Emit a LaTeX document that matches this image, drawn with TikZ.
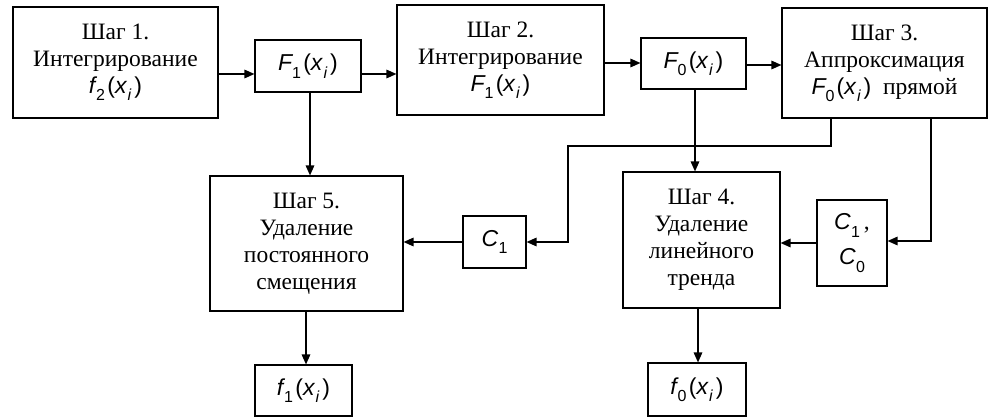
\documentclass[tikz,border=0pt]{standalone}
\usepackage{fontspec}
\setmainfont{Liberation Serif}
\newfontfamily\arialf{Liberation Sans}
\usetikzlibrary{arrows.meta}
\newcommand\subsz[1]{\raisebox{-0.32em}{\fontsize{16}{16}\selectfont #1}}
\newcommand\fxi[2]{{\fontsize{23}{27}\selectfont\arialf\textit{#1}\kern-0.05em\subsz{#2}\kern0.1em(\textit{x}\kern0.02em\subsz{\textit{i}}\kern0.12em)}}
\newcommand\cc[1]{{\fontsize{23}{27}\selectfont\arialf\textit{C}\kern0.01em\subsz{#1}}}
\begin{document}
\begin{tikzpicture}[x=1pt,y=-1pt,
  box/.style={draw, line width=1.1pt, inner sep=0pt, align=center, font=\fontsize{23.5}{27}\selectfont},
  arr/.style={line width=1.5pt, -{Triangle[length=10pt,width=8.5pt]}},
  ln/.style={line width=1.5pt}]
\useasboundingbox (0,0) rectangle (989,417);
% top row
\node[box, minimum width=205pt, minimum height=111pt] (s1) at (115.5,62.5) {Шаг 1.\\Интегрирование\\\fxi{f}{2}};
\node[box, minimum width=106pt, minimum height=52pt] (f1) at (308,66) {\fxi{F}{1}};
\node[box, minimum width=207pt, minimum height=110pt] (s2) at (500.5,60) {Шаг 2.\\Интегрирование\\\fxi{F}{1}};
\node[box, minimum width=105pt, minimum height=51pt] (f0) at (693.5,63.5) {\fxi{F}{0}};
\node[box, minimum width=205pt, minimum height=110pt] (s3) at (884.5,63) {Шаг 3.\\Аппроксимация\\\fxi{F}{0}~ прямой};
% middle row
\node[box, minimum width=193pt, minimum height=135pt] (s5) at (306.5,243.5) {Шаг 5.\\Удаление\\постоянного\\смещения};
\node[box, minimum width=63pt, minimum height=52pt] (c1) at (494.5,242) {\cc{1}};
\node[box, minimum width=70pt, minimum height=86pt] (c10) at (852,243) {\cc{1}\,,\\[8pt]\cc{0}};
\node[box, minimum width=157pt, minimum height=136pt] (s4) at (701.5,240) {Шаг 4.\\Удаление\\линейного\\тренда};
% bottom row
\node[box, minimum width=97pt, minimum height=51pt] (o1) at (303.5,390.5) {\fxi{f}{1}};
\node[box, minimum width=98pt, minimum height=53pt] (o0) at (697,389.5) {\fxi{f}{0}};
% helper coordinates
\coordinate (ya) at (0,74);
\coordinate (yb) at (0,63);
\coordinate (yc) at (0,65);
\coordinate (yd) at (0,146);
\coordinate (ye) at (0,242);
\coordinate (yf) at (0,241);
\coordinate (yg) at (0,243);
\coordinate (xa) at (310,0);
\coordinate (xb) at (695,0);
\coordinate (xc) at (831,0);
\coordinate (xd) at (931,0);
\coordinate (xe) at (568,0);
\coordinate (xf) at (306,0);
\coordinate (xg) at (698,0);
\coordinate (kneeA) at (xc |- yd);
\coordinate (kneeB) at (xe |- yd);
\coordinate (kneeC) at (xe |- ye);
\coordinate (kneeD) at (xd |- yf);
% connectors
\draw[arr] (s1.east |- ya) -- (f1.west |- ya);
\draw[arr] (f1.east |- ya) -- (s2.west |- ya);
\draw[arr] (s2.east |- yb) -- (f0.west |- yb);
\draw[arr] (f0.east |- yc) -- (s3.west |- yc);
\draw[arr] (f1.south -| xa) -- (s5.north -| xa);
\draw[arr] (f0.south -| xb) -- (s4.north -| xb);
\draw[arr] (s3.south -| xc) -- (kneeA) -- (kneeB) -- (kneeC) -- (c1.east |- ye);
\draw[arr] (s3.south -| xd) -- (kneeD) -- (c10.east |- yf);
\draw[arr] (c1.west |- ye) -- (s5.east |- ye);
\draw[arr] (c10.west |- yg) -- (s4.east |- yg);
\draw[arr] (s5.south -| xf) -- (o1.north -| xf);
\draw[arr] (s4.south -| xg) -- (o0.north -| xg);
\end{tikzpicture}
\end{document}
